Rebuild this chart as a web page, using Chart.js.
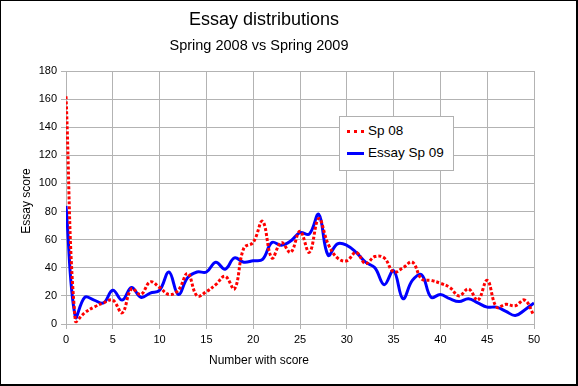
<!DOCTYPE html>
<html>
<head>
<meta charset="utf-8">
<script src="https://cdn.jsdelivr.net/npm/chart.js@4"></script>
<style>
  html, body { margin: 0; padding: 0; background: #fff; }
  #wrap { position: relative; width: 578px; height: 386px; box-sizing: border-box;
          border-top: 1px solid #000; border-left: 1px solid #000;
          border-right: 2px solid #000; border-bottom: 2px solid #000; overflow: hidden; }
  #c { position: absolute; left: -1px; top: -1px; }
  .txt { position: absolute; font-family: "Liberation Sans", Arial, sans-serif; color: #000; white-space: nowrap; }
  #title { left: 163px; width: 200px; text-align: center; top: 8px; font-size: 18px; }
  #subtitle { left: 108px; width: 300px; text-align: center; top: 36px; font-size: 14.5px; }
  #xtitle { left: 158px; width: 200px; text-align: center; top: 352px; font-size: 12px; }
  #ytitle { left: -75px; top: 193px; width: 200px; text-align: center; font-size: 12px; transform: rotate(-90deg); }
  #legend { position: absolute; left: 338px; top: 115px; width: 115px; height: 55px;
            border: 1px solid #b0b0b0; background: #fff; box-sizing: border-box;
            font-family: "Liberation Sans", Arial, sans-serif; font-size: 13.5px; }
  .item { position: absolute; left: 7px; height: 16px; line-height: 16px; white-space: nowrap; }
  .swatch { position: absolute; left: 0; top: 7px; width: 17px; height: 0; }
  .item span { position: absolute; left: 21px; top: 0; white-space: nowrap; }
</style>
</head>
<body>
<div id="wrap">
  <canvas id="c" width="578" height="386"></canvas>
  <div class="txt" id="title">Essay distributions</div>
  <div class="txt" id="subtitle">Spring 2008 vs Spring 2009</div>
  <div class="txt" id="xtitle">Number with score</div>
  <div class="txt" id="ytitle">Essay score</div>
  <div id="legend">
    <div class="item" style="top:6px"><div class="swatch" style="border-top:3px dotted #ff0000"></div><span>Sp 08</span></div>
    <div class="item" style="top:28px"><div class="swatch" style="border-top:3px solid #0000ff"></div><span>Essay Sp 09</span></div>
  </div>
</div>
<script>
// x positions (number with score)
const scores = [0, 1, 2, 3, 4, 5, 6, 7, 8, 9, 10, 11, 12, 13, 14, 15, 16, 17, 18, 19, 20,
    21, 22, 23, 24, 25, 26, 27, 28, 29, 30, 31, 32, 33, 34, 35, 36, 37, 38, 39, 40,
    41, 42, 43, 44, 45, 46, 47, 48, 49, 50]

const sp08 = [162, 2, 8, 12, 15, 17, 8, 25, 21, 30, 26, 21, 24, 36, 20, 23, 28, 34, 25, 54, 58,
    73, 47, 58, 51, 66, 51, 75, 57, 47, 45, 51, 43, 48, 47, 37, 40, 44, 32, 31, 29,
    26, 20, 25, 17, 31, 12, 14, 13, 17, 6]

const sp09 = [84, 5, 19, 17, 15, 24, 17, 26, 19, 22, 24, 37, 21, 33, 37, 37, 44, 39, 47, 44, 45,
    46, 58, 56, 59, 65, 64, 78, 49, 57, 56, 51, 44, 40, 28, 38, 18, 31, 35, 19, 21,
    18, 16, 18, 15, 12, 12, 9, 6, 10, 15]

const toPoints = ys => scores.map((x, i) => ({x: x, y: ys[i]}))

const tickFont = {family: 'Liberation Sans, Arial, sans-serif', size: 11}
const gridColor = '#b3b3b3'

const ctx = document.getElementById('c').getContext('2d')
const chart = new Chart(ctx, {
    type: 'line',
    data: {
        datasets: [{
            label: 'Sp 08',
            data: toPoints(sp08),
            borderColor: '#ff0000',
            borderWidth: 3,
            borderDash: [3, 2],
            pointRadius: 0,
            tension: 0.4,
            fill: false
        }, {
            label: 'Essay Sp 09',
            data: toPoints(sp09),
            borderColor: '#0000ff',
            borderWidth: 3,
            pointRadius: 0,
            tension: 0.4,
            fill: false
        }]
    },
    options: {
        responsive: false,
        animation: false,
        layout: {padding: {left: 0, right: 44, top: 71, bottom: 0}},
        plugins: {legend: {display: false}, title: {display: false}, tooltip: {enabled: false}},
        scales: {
            x: {
                type: 'linear', min: 0, max: 50,
                ticks: {stepSize: 5, color: '#000', font: tickFont, padding: 4},
                grid: {color: gridColor, tickLength: 5, tickColor: gridColor},
                border: {color: gridColor},
                afterFit: s => { s.height = 62 }
            },
            y: {
                min: 0, max: 180,
                ticks: {stepSize: 20, color: '#000', font: tickFont, padding: 4},
                grid: {color: gridColor, tickLength: 5, tickColor: gridColor},
                border: {color: gridColor},
                afterFit: s => { s.width = 66 }
            }
        }
    }
})
</script>
</body>
</html>
